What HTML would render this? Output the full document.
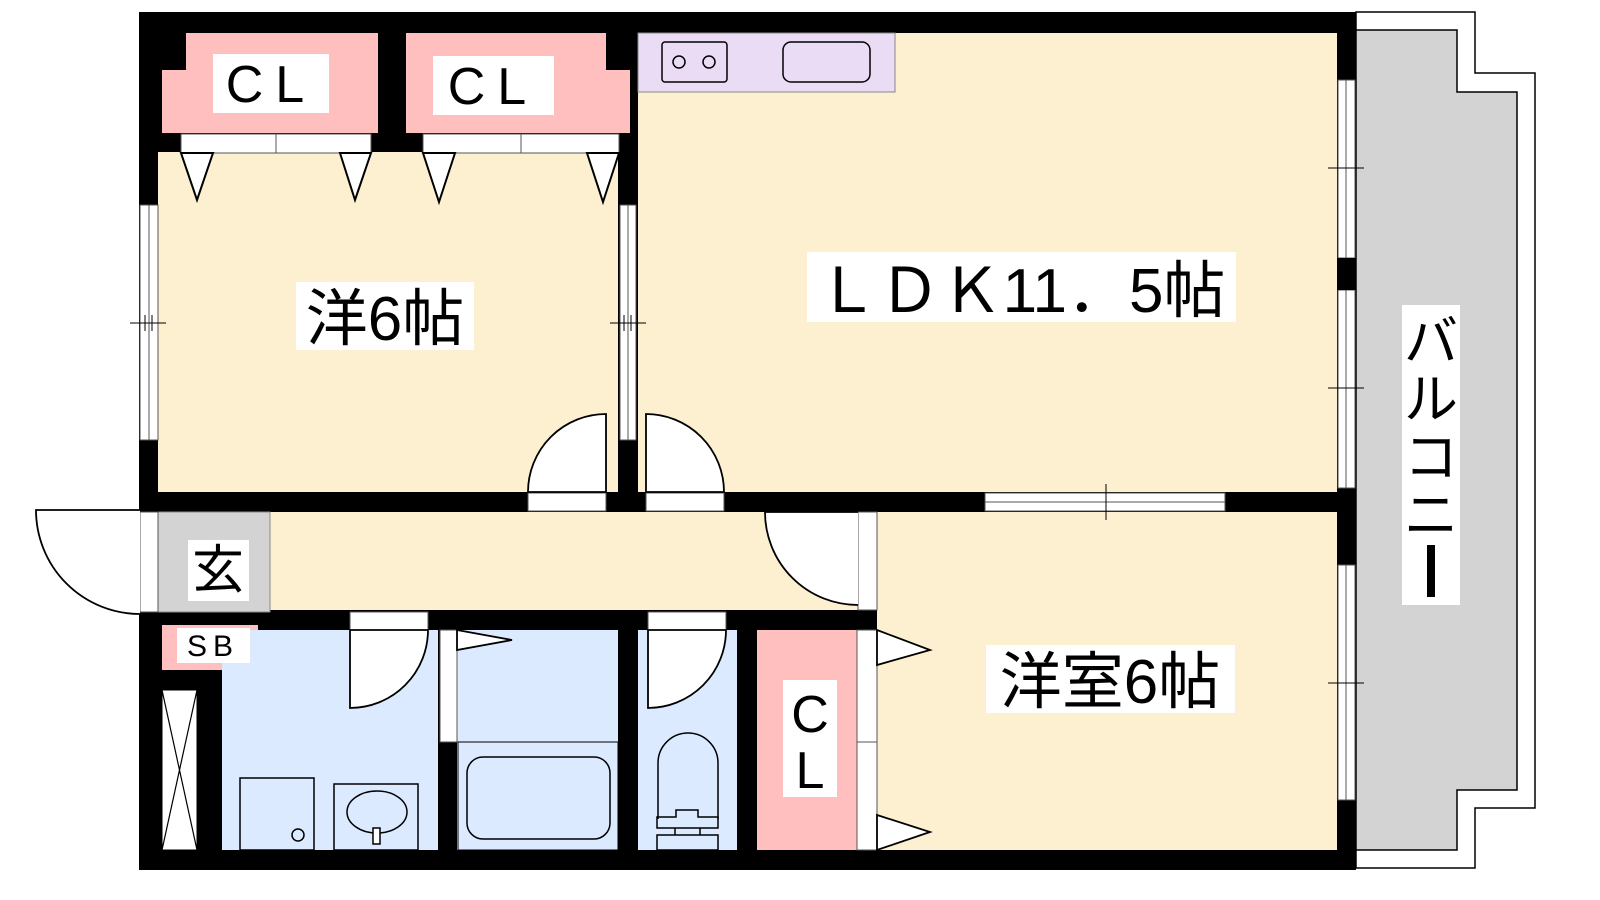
<!DOCTYPE html>
<html><head><meta charset="utf-8"><style>
html,body{margin:0;padding:0;background:#fff;width:1600px;height:900px;overflow:hidden}
svg text{font-family:"Liberation Sans","Noto Sans CJK JP",sans-serif;fill:#000}
</style></head><body>
<svg width="1600" height="900" viewBox="0 0 1600 900" xmlns="http://www.w3.org/2000/svg">
<polygon points="1356,12 1475,12 1475,73 1535,73 1535,808 1475,808 1475,868 1356,868" fill="#fff" stroke="#000" stroke-width="1.5"/>
<polygon points="1356,30 1457,30 1457,92 1517,92 1517,790 1457,790 1457,850 1356,850" fill="#d3d3d3" stroke="#000" stroke-width="1.5"/>
<rect x="139" y="12" width="1217" height="858" fill="#000"/>
<rect x="158" y="152" width="460" height="340" fill="#fdf0d0"/>
<polygon points="186,33 378,33 378,133 162,133 162,70 186,70" fill="#ffbfbf"/>
<polygon points="406,33 606,33 606,70 630,70 630,133 406,133" fill="#ffbfbf"/>
<rect x="618" y="133" width="12" height="19" fill="#000"/>
<rect x="181" y="134" width="190" height="19" fill="#fff" stroke="#555" stroke-width="1"/>
<line x1="276" y1="134" x2="276" y2="153" stroke="#555"/>
<rect x="423" y="134" width="196" height="19" fill="#fff" stroke="#555" stroke-width="1"/>
<line x1="521" y1="134" x2="521" y2="153" stroke="#555"/>
<g fill="#fff" stroke="#000" stroke-width="2">
<polygon points="181,153 213,153 197,200"/><polygon points="340,153 371,153 355,200"/>
<polygon points="423,153 455,153 439,202"/><polygon points="587,153 619,153 603,202"/>
</g>
<rect x="638" y="33" width="699" height="459" fill="#fdf0d0"/>
<rect x="638" y="33" width="257" height="59" fill="#eadcf5" stroke="#888" stroke-width="1"/>
<rect x="662" y="42" width="65" height="40" fill="none" stroke="#000" stroke-width="1.5" rx="3"/>
<circle cx="679" cy="62" r="6" fill="none" stroke="#000" stroke-width="1.5"/>
<circle cx="709" cy="62" r="6" fill="none" stroke="#000" stroke-width="1.5"/>
<rect x="783" y="42" width="87" height="40" fill="none" stroke="#000" stroke-width="1.5" rx="8"/>
<rect x="158" y="512" width="700" height="98" fill="#fdf0d0"/>
<rect x="158" y="512" width="112" height="100" fill="#d3d3d3" stroke="#888" stroke-width="1"/>
<rect x="162" y="625" width="96" height="45" fill="#ffbfbf"/>
<rect x="222" y="630" width="216" height="220" fill="#dbeaff"/>
<rect x="278" y="630" width="160" height="220" fill="#dbeaff"/>
<rect x="222" y="690" width="60" height="160" fill="#dbeaff"/>
<rect x="457" y="630" width="161" height="220" fill="#dbeaff"/>
<rect x="638" y="630" width="99" height="220" fill="#dbeaff"/>
<rect x="757" y="630" width="100" height="220" fill="#ffbfbf"/>
<rect x="877" y="512" width="460" height="338" fill="#fdf0d0"/>
<rect x="162" y="690" width="35" height="160" fill="#fff" stroke="#000" stroke-width="1"/>
<line x1="162" y1="690" x2="197" y2="850" stroke="#000" stroke-width="1.2"/>
<line x1="197" y1="690" x2="162" y2="850" stroke="#000" stroke-width="1.2"/>
<g fill="#fff" stroke="#555" stroke-width="1">
<rect x="140" y="205" width="18" height="235"/><line x1="149" y1="205" x2="149" y2="440"/>
<rect x="620" y="205" width="16" height="235"/><line x1="628" y1="205" x2="628" y2="440"/>
<rect x="1338" y="80" width="17" height="178"/><line x1="1346" y1="80" x2="1346" y2="258"/>
<rect x="1338" y="290" width="17" height="198"/><line x1="1346" y1="290" x2="1346" y2="488"/>
<rect x="1338" y="565" width="17" height="235"/><line x1="1346" y1="565" x2="1346" y2="800"/>
<rect x="985" y="493" width="240" height="18"/><line x1="985" y1="502" x2="1225" y2="502"/>
<rect x="140" y="512" width="18" height="100"/>
<rect x="858" y="512" width="19" height="98"/>
<rect x="857" y="630" width="20" height="220"/><line x1="857" y1="742" x2="877" y2="742"/>
<rect x="440" y="630" width="17" height="112"/>
<rect x="350" y="612" width="78" height="18"/>
<rect x="648" y="612" width="78" height="18"/>
<rect x="528" y="493" width="78" height="18"/>
<rect x="646" y="493" width="78" height="18"/>
</g>
<g stroke="#000" stroke-width="1">
<line x1="130" y1="323" x2="166" y2="323"/><line x1="145" y1="315" x2="145" y2="331"/><line x1="152" y1="315" x2="152" y2="331"/>
<line x1="610" y1="323" x2="646" y2="323"/><line x1="624" y1="315" x2="624" y2="331"/><line x1="631" y1="315" x2="631" y2="331"/>
<line x1="1328" y1="168" x2="1364" y2="168"/><line x1="1328" y1="388" x2="1364" y2="388"/><line x1="1328" y1="683" x2="1364" y2="683"/>
<line x1="1106" y1="484" x2="1106" y2="520"/>
</g>
<rect x="1337" y="258" width="19" height="32" fill="#000"/>
<g fill="#fff" stroke="#000" stroke-width="1.8">
<path d="M606,492 L606,414 A78,78 0 0 0 528,492 Z"/>
<path d="M646,492 L646,414 A78,78 0 0 1 724,492 Z"/>
<path d="M140,510 L36,510 A104,104 0 0 0 140,614"/>
<path d="M858,512 L765,512 A93,93 0 0 0 858,605"/>
<path d="M350,630 L350,708 A78,78 0 0 0 428,630 Z"/>
<path d="M648,630 L648,708 A78,78 0 0 0 726,630 Z"/>
<polygon points="457,630 512,640 457,650"/>
<polygon points="877,630 930,650 877,665"/>
<polygon points="877,815 930,832 877,850"/>
</g>
<g fill="none" stroke="#000" stroke-width="1.5">
<rect x="240" y="778" width="74" height="72"/>
<circle cx="298" cy="835" r="6"/>
<rect x="334" y="784" width="84" height="66"/>
<ellipse cx="377" cy="812" rx="30" ry="21"/>
<rect x="373" y="828" width="7" height="16" fill="#fff"/>
<rect x="458" y="742" width="160" height="108" stroke-width="1"/>
<rect x="467" y="757" width="143" height="82" rx="16"/>
<path d="M670,834 L670,780 A19,19 0 0 1 670,775 L670,775 A0,0 0 0 1 670,775" stroke="none"/>
<path d="M670,834 L670,778 A30,30 0 0 1 730,778 L730,834" transform="translate(-12,-15)"/>
<path d="M670,834 L670,778 A30,30 0 0 1 730,778 L730,834" transform="translate(-12,-15)" stroke="none"/>
<path d="M658,819 L690,819 L690,825 L658,825 Z" stroke="none"/>
<path d="M656,823 L656,808 L690,808 M690,808 L690,814 L718,814 L718,823 Z" stroke="none"/>
<path d="M657,817 L676,817 L676,810 L698,810 L698,817 L718,817 L718,828 L657,828 Z"/>
<path d="M657,835 L718,835 L718,850 L657,850 Z"/>
<line x1="675" y1="828" x2="675" y2="835"/><line x1="700" y1="828" x2="700" y2="835"/>
</g>
<rect x="213" y="54" width="116" height="59" fill="#fff"/>
<text x="271" y="102" font-size="52" text-anchor="middle" letter-spacing="12">CL</text>
<rect x="433" y="56" width="121" height="59" fill="#fff"/>
<text x="493" y="104" font-size="52" text-anchor="middle" letter-spacing="12">CL</text>
<rect x="296" y="282" width="178" height="68" fill="#fff"/>
<text x="385" y="340" font-size="62" text-anchor="middle">洋6帖</text>
<rect x="807" y="252" width="429" height="70" fill="#fff"/>
<text x="1021" y="312" font-size="62" text-anchor="middle">ＬＤＫ11．5帖</text>
<rect x="986" y="645" width="249" height="68" fill="#fff"/>
<text x="1110" y="703" font-size="62" text-anchor="middle">洋室6帖</text>
<rect x="188" y="540" width="61" height="61" fill="#fff"/>
<text x="218" y="588" font-size="52" text-anchor="middle">玄</text>
<rect x="177" y="628" width="73" height="35" fill="#fff"/>
<text x="213" y="656" font-size="30" text-anchor="middle" letter-spacing="6">SB</text>
<rect x="783" y="680" width="54" height="117" fill="#fff"/>
<text x="810" y="732" font-size="52" text-anchor="middle">C</text>
<text x="810" y="788" font-size="52" text-anchor="middle">L</text>
<rect x="1402" y="305" width="58" height="300" fill="#fff"/>
<text x="1431" y="360" font-size="54" text-anchor="middle">バ</text>
<text x="1431" y="418" font-size="54" text-anchor="middle">ル</text>
<text x="1431" y="476" font-size="54" text-anchor="middle">コ</text>
<text x="1431" y="534" font-size="54" text-anchor="middle">ニ</text>
<rect x="1427" y="545" width="8" height="52" fill="#000"/>
</svg>
</body></html>
